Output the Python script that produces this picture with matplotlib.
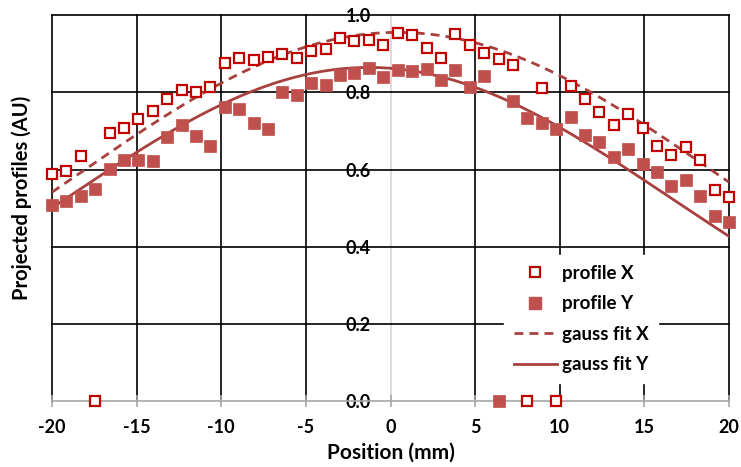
import numpy as np
import matplotlib
matplotlib.use("Agg")
import matplotlib.pyplot as plt
from matplotlib.lines import Line2D

plt.rcParams['font.family'] = ['Lato', 'DejaVu Sans']
plt.rcParams['font.weight'] = 'bold'

# Scan positions (mm): 48 equally spaced samples across the aperture
n_points = 48
position = np.linspace(-20, 20, n_points)

profile_x = [0.588, 0.596, 0.634, 0.000, 0.696, 0.709, 0.732, 0.752, 0.783, 0.806,
             0.800, 0.815, 0.877, 0.889, 0.884, 0.893, 0.900, 0.890, 0.908, 0.912,
             0.942, 0.933, 0.936, 0.922, 0.955, 0.948, 0.915, 0.889, 0.952, 0.924,
             0.903, 0.887, 0.872, 0.000, 0.811, 0.000, 0.818, 0.783, 0.749, 0.716,
             0.743, 0.708, 0.662, 0.638, 0.658, 0.625, 0.546, 0.529]

profile_y = [0.507, 0.518, 0.531, 0.549, 0.602, 0.626, 0.625, 0.622, 0.684, 0.715,
             0.687, 0.660, 0.761, 0.756, 0.722, 0.706, 0.802, 0.793, 0.824, 0.819,
             0.845, 0.850, 0.863, 0.839, 0.858, 0.857, 0.860, 0.832, 0.858, 0.813,
             0.843, 0.000, 0.778, 0.734, 0.720, 0.705, 0.736, 0.689, 0.671, 0.632,
             0.652, 0.614, 0.594, 0.558, 0.574, 0.530, 0.480, 0.464]

# Gaussian fit parameters: amplitude, centre (mm), sigma (mm)
fit_x = (0.956, 0.43, 19.15)
fit_y = (0.865, -1.28, 17.9)


def gauss(x, amp, mu, sigma):
    return amp * np.exp(-(x - mu) ** 2 / (2 * sigma ** 2))


xs = np.linspace(-20, 20, 400)

fig = plt.figure(figsize=(7.41, 4.67), dpi=100)
ax = fig.add_axes([0.0702, 0.142, 0.9136, 0.825])

ax.set_xlim(-20, 20)
ax.set_ylim(0, 1.0)

# black grid lines (the zero lines are drawn by the grey spines)
for gx in [-20, -15, -10, -5, 5, 10, 15, 20]:
    ax.plot([gx, gx], [0, 1.0], color='black', lw=1.2, zorder=1, clip_on=False)
for gy in [0.2, 0.4, 0.6, 0.8, 1.0]:
    ax.plot([-20, 20], [gy, gy], color='black', lw=1.2, zorder=1, clip_on=False)

ax.spines['left'].set_position(('data', 0))
ax.spines['bottom'].set_position(('data', 0))
ax.spines['right'].set_visible(False)
ax.spines['top'].set_visible(False)
ax.spines['left'].set_color('#d4d4d4')
ax.spines['bottom'].set_color('#a6a6a6')
ax.spines['left'].set_linewidth(1.2)
ax.spines['bottom'].set_linewidth(1.2)
ax.spines['left'].set_zorder(0.5)

ax.set_xticks([-20, -15, -10, -5, 0, 5, 10, 15, 20])
ax.set_xticklabels(['-20', '-15', '-10', '-5', '0', '5', '10', '15', '20'])
ax.set_yticks([0.0, 0.2, 0.4, 0.6, 0.8, 1.0])
ax.set_yticklabels(['0.0', '0.2', '0.4', '0.6', '0.8', '1.0'])
ax.tick_params(axis='x', direction='inout', length=8, width=1.2, color='#a6a6a6',
               labelsize=13, pad=9)
ax.tick_params(axis='y', direction='out', length=0, labelsize=13, pad=14)
for lab in ax.get_xticklabels() + ax.get_yticklabels():
    lab.set_fontweight('bold')

line_col = '#a8403e'
ax.plot(xs, gauss(xs, *fit_x), color=line_col, lw=2, ls=(0, (3.2, 2.2)), zorder=3)
ax.plot(xs, gauss(xs, *fit_y), color=line_col, lw=2, ls='-', zorder=3)

ax.plot(position, profile_y, ls='none', marker='s', ms=9, mfc='#c0504d',
        mec='#c0504d', mew=0.5, zorder=4, clip_on=False)
ax.plot(position, profile_x, ls='none', marker='s', ms=7.5, mfc='white',
        mec='#c00000', mew=1.6, zorder=5, clip_on=False)

fig.text(390.5 / 741, 1 - 453 / 467, 'Position (mm)', ha='center', va='center',
         fontsize=15, fontweight='bold')
fig.text(22 / 741, 1 - 198 / 467, 'Projected profiles (AU)', rotation=90,
         ha='center', va='center', fontsize=14.5, fontweight='bold')

handles = [
    Line2D([], [], ls='none', marker='s', ms=7.5, mfc='white', mec='#c00000', mew=1.6),
    Line2D([], [], ls='none', marker='s', ms=9, mfc='#c0504d', mec='#c0504d'),
    Line2D([], [], color=line_col, lw=2, ls=(0, (3.2, 2.2))),
    Line2D([], [], color=line_col, lw=2, ls='-'),
]
labels = ['profile X', 'profile Y', 'gauss fit X', 'gauss fit Y']
leg = ax.legend(handles, labels, loc='upper left',
                bbox_to_anchor=((495 - 52) / 677, 1 - (246 - 15.3) / 385.4),
                frameon=True, fancybox=False, framealpha=1, edgecolor='white',
                prop={'weight': 'bold', 'size': 13.5},
                handlelength=2.3, handletextpad=0.25, labelspacing=0.72,
                borderpad=0.5)
leg.set_zorder(6)

fig.savefig('out.png', dpi=100)
